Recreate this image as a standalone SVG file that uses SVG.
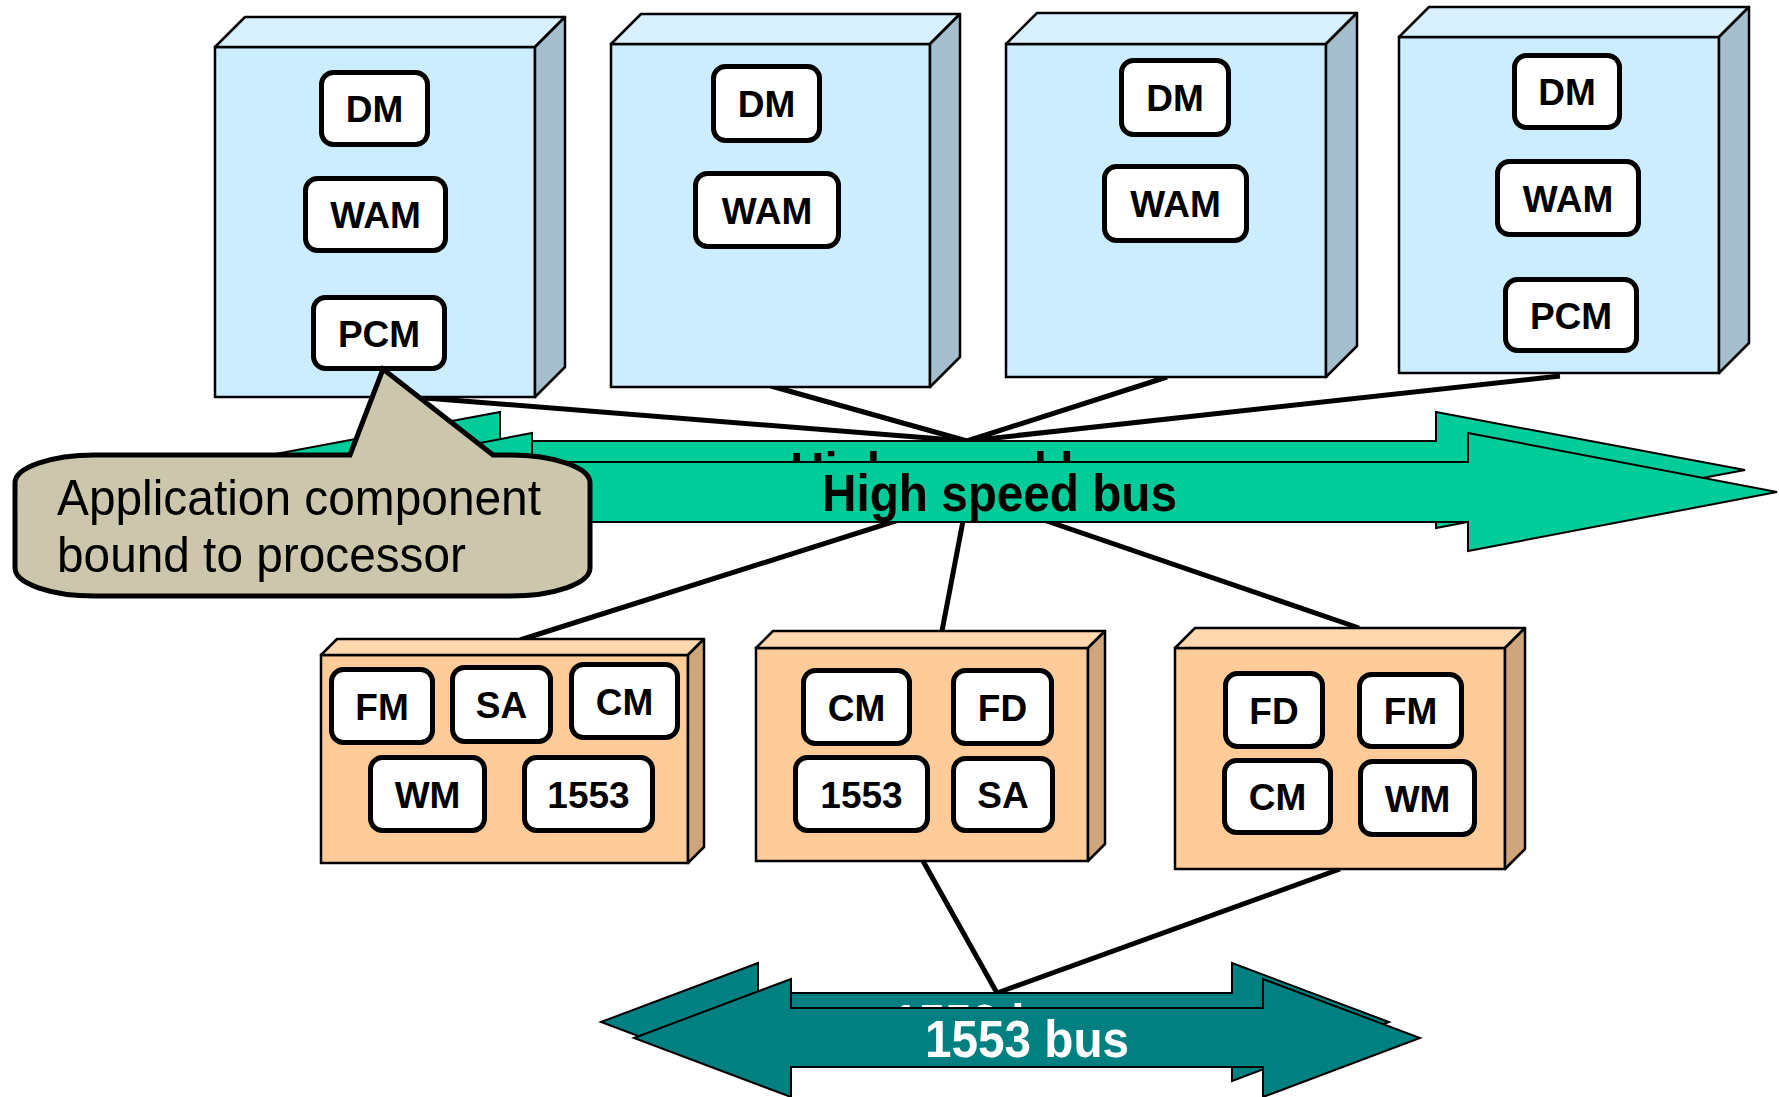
<svg xmlns="http://www.w3.org/2000/svg" width="1779" height="1097" viewBox="0 0 1779 1097">
<style>
.front{fill:#CCECFF;stroke:#000;stroke-width:2.5}
.top{fill:#D9F1FF;stroke:#000;stroke-width:2.5;stroke-linejoin:round}
.side{fill:#A6BFCF;stroke:#000;stroke-width:2.5;stroke-linejoin:round}
.ofront{fill:#FFCC99;stroke:#000;stroke-width:2.5}
.otop{fill:#FFD8B0;stroke:#000;stroke-width:2.5;stroke-linejoin:round}
.oside{fill:#CFA57C;stroke:#000;stroke-width:2.5;stroke-linejoin:round}
.comp{fill:#fff;stroke:#000;stroke-width:5}
.lbl{font-family:"Liberation Sans",Arial,sans-serif;font-weight:bold;font-size:37px;text-anchor:middle;fill:#000}
.conn{stroke:#000;stroke-width:5;fill:none;stroke-linecap:butt}
.gbus{fill:#00CC99;stroke:#000;stroke-width:2}
.tbus{fill:#008080;stroke:#000;stroke-width:2}
.bustxt{font-family:"Liberation Sans",Arial,sans-serif;font-weight:bold;font-size:52px}
.call{font-family:"Liberation Sans",Arial,sans-serif;font-size:50px;fill:#000}
</style>

<g id="connectors">
<line class="conn" x1="425" y1="398" x2="967" y2="441"/>
<line class="conn" x1="771" y1="386" x2="967" y2="441"/>
<line class="conn" x1="1167" y1="377" x2="967" y2="441"/>
<line class="conn" x1="1560" y1="376" x2="967" y2="441"/>
<line class="conn" x1="930" y1="510" x2="520" y2="640"/>
<line class="conn" x1="967" y1="500" x2="942" y2="631"/>
<line class="conn" x1="1000" y1="505" x2="1359" y2="628"/>
<line class="conn" stroke-width="4" x1="923" y1="861" x2="997" y2="993"/>
<line class="conn" stroke-width="6" x1="1340" y1="869" x2="997" y2="993"/>
</g>

<g id="node-p1">
<rect class="front" x="215" y="47" width="320" height="350"/>
<polygon class="top" points="215,47 245,17 565,17 535,47"/>
<polygon class="side" points="535,47 565,17 565,367 535,397"/>
<rect class="comp" x="321.5" y="72.5" width="106" height="72" rx="12"/>
<text class="lbl" x="374.5" y="122">DM</text>
<rect class="comp" x="305.5" y="178.5" width="140" height="72" rx="12"/>
<text class="lbl" x="375.5" y="228">WAM</text>
<rect class="comp" x="313.5" y="297.5" width="131" height="71" rx="12"/>
<text class="lbl" x="379" y="346.5">PCM</text>
</g>

<g id="node-p2">
<rect class="front" x="611" y="44" width="319" height="343"/>
<polygon class="top" points="611,44 641,14 960,14 930,44"/>
<polygon class="side" points="930,44 960,14 960,357 930,387"/>
<rect class="comp" x="713.5" y="66.5" width="106" height="74" rx="12"/>
<text class="lbl" x="766.5" y="117">DM</text>
<rect class="comp" x="695.5" y="173.5" width="143" height="73" rx="12"/>
<text class="lbl" x="767" y="223.5">WAM</text>
</g>

<g id="node-p3">
<rect class="front" x="1006" y="44" width="320" height="333"/>
<polygon class="top" points="1006,44 1037,13 1357,13 1326,44"/>
<polygon class="side" points="1326,44 1357,13 1357,346 1326,377"/>
<rect class="comp" x="1121.5" y="60.5" width="107" height="74" rx="12"/>
<text class="lbl" x="1175" y="111">DM</text>
<rect class="comp" x="1104.5" y="166.5" width="142" height="74" rx="12"/>
<text class="lbl" x="1175.5" y="217">WAM</text>
</g>

<g id="node-p4">
<rect class="front" x="1399" y="37" width="320" height="336"/>
<polygon class="top" points="1399,37 1429,7 1749,7 1719,37"/>
<polygon class="side" points="1719,37 1749,7 1749,343 1719,373"/>
<rect class="comp" x="1514.5" y="55.5" width="105" height="72" rx="12"/>
<text class="lbl" x="1567" y="105">DM</text>
<rect class="comp" x="1497.5" y="161.5" width="141" height="73" rx="12"/>
<text class="lbl" x="1568" y="211.5">WAM</text>
<rect class="comp" x="1505.5" y="279.5" width="131" height="71" rx="12"/>
<text class="lbl" x="1571" y="328.5">PCM</text>
</g>

<g id="node-l1">
<rect class="ofront" x="321" y="655" width="367" height="208"/>
<polygon class="otop" points="321,655 337,639 704,639 688,655"/>
<polygon class="oside" points="688,655 704,639 704,847 688,863"/>
<rect class="comp" x="331.5" y="669.5" width="101" height="73" rx="12"/>
<text class="lbl" x="382" y="719.5">FM</text>
<rect class="comp" x="452.5" y="667.5" width="98" height="74" rx="12"/>
<text class="lbl" x="501.5" y="718">SA</text>
<rect class="comp" x="571.5" y="664.5" width="106" height="73" rx="12"/>
<text class="lbl" x="624.5" y="714.5">CM</text>
<rect class="comp" x="370.5" y="757.5" width="114" height="73" rx="12"/>
<text class="lbl" x="427.5" y="807.5">WM</text>
<rect class="comp" x="524.5" y="757.5" width="128" height="73" rx="12"/>
<text class="lbl" x="588.5" y="807.5">1553</text>
</g>

<g id="node-l2">
<rect class="ofront" x="756" y="648" width="332" height="213"/>
<polygon class="otop" points="756,648 773,631 1105,631 1088,648"/>
<polygon class="oside" points="1088,648 1105,631 1105,844 1088,861"/>
<rect class="comp" x="803.5" y="670.5" width="106" height="73" rx="12"/>
<text class="lbl" x="856.5" y="720.5">CM</text>
<rect class="comp" x="953.5" y="670.5" width="98" height="73" rx="12"/>
<text class="lbl" x="1002.5" y="720.5">FD</text>
<rect class="comp" x="795.5" y="757.5" width="132" height="73" rx="12"/>
<text class="lbl" x="861.5" y="807.5">1553</text>
<rect class="comp" x="953.5" y="758.5" width="99" height="72" rx="12"/>
<text class="lbl" x="1003" y="808">SA</text>
</g>

<g id="node-l3">
<rect class="ofront" x="1175" y="648" width="330" height="221"/>
<polygon class="otop" points="1175,648 1195,628 1525,628 1505,648"/>
<polygon class="oside" points="1505,648 1525,628 1525,849 1505,869"/>
<rect class="comp" x="1225.5" y="673.5" width="97" height="73" rx="12"/>
<text class="lbl" x="1274" y="723.5">FD</text>
<rect class="comp" x="1359.5" y="674.5" width="102" height="72" rx="12"/>
<text class="lbl" x="1410.5" y="724">FM</text>
<rect class="comp" x="1224.5" y="760.5" width="106" height="72" rx="12"/>
<text class="lbl" x="1277.5" y="810">CM</text>
<rect class="comp" x="1360.5" y="761.5" width="114" height="73" rx="12"/>
<text class="lbl" x="1417.5" y="811.5">WM</text>
</g>

<g id="high-speed-bus">
<polygon class="gbus" points="190,470 500,412 500,441 1436,441 1436,412 1745,470 1436,528 1436,499 500,499 500,528"/>
<text class="bustxt" x="790" y="489" textLength="355" lengthAdjust="spacingAndGlyphs" fill="#000">High speed bus</text>
<polygon class="gbus" points="222,492 532,433 532,462 1468,462 1468,433 1777,492 1468,551 1468,522 532,522 532,551"/>
<text class="bustxt" x="822" y="511" textLength="355" lengthAdjust="spacingAndGlyphs" fill="#000">High speed bus</text>
</g>

<g id="bus-1553">
<polygon class="tbus" points="601,1022 758,963 758,993 1232,993 1232,963 1389,1022 1232,1081 1232,1051 758,1051 758,1081"/>
<text class="bustxt" x="892" y="1041" textLength="204" lengthAdjust="spacingAndGlyphs" fill="#fff">1553 bus</text>
<polygon class="tbus" points="634,1038 791,979 791,1008 1263,1008 1263,979 1420,1038 1263,1097 1263,1067 791,1067 791,1097"/>
<text class="bustxt" x="925" y="1057" textLength="204" lengthAdjust="spacingAndGlyphs" fill="#fff">1553 bus</text>
</g>

<g id="callout">
<path d="M95,455 L350,455 L383,369 L493,455 L510,455 A80,28 0 0 1 590,483 L590,568 A80,28 0 0 1 510,596 L95,596 A80,28 0 0 1 15,568 L15,483 A80,28 0 0 1 95,455 Z" fill="#CCC6AC" stroke="#000" stroke-width="5" stroke-linejoin="miter"/>
<text class="call" x="57" y="515" textLength="484" lengthAdjust="spacingAndGlyphs">Application component</text>
<text class="call" x="57" y="572" textLength="409" lengthAdjust="spacingAndGlyphs">bound to processor</text>
</g>
</svg>
